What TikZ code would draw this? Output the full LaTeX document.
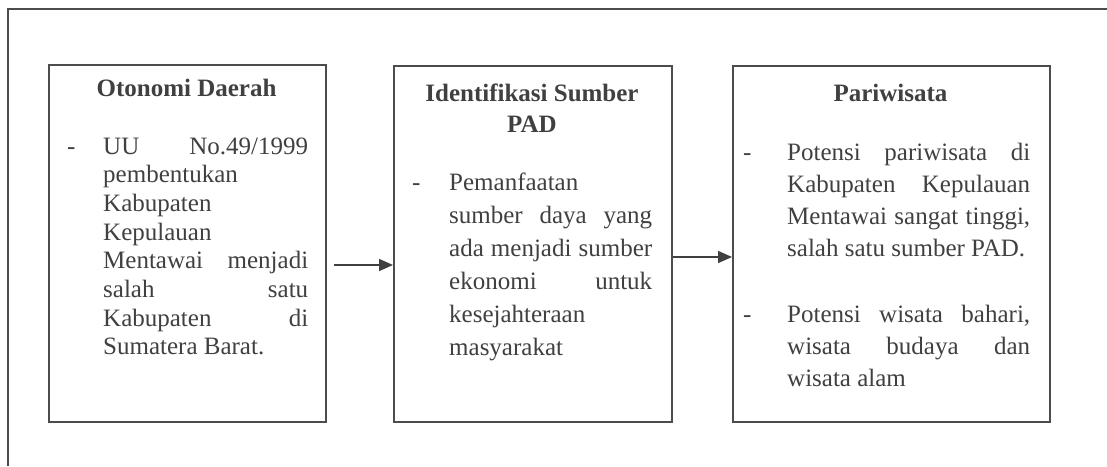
\documentclass[tikz,border=0pt]{standalone}
\usepackage{fontspec}
\setmainfont{Liberation Serif}
\usetikzlibrary{arrows.meta}
\newcommand\jl[1]{\makebox[\linewidth][s]{#1}}
\begin{document}
\begin{tikzpicture}[x=1pt,y=-1pt,
  frame/.style={draw=black!70, line width=1.5pt},
  box/.style={draw=black!70, line width=1.5pt, rectangle, inner sep=0pt, anchor=north west},
  txta/.style={inner sep=0pt, text=black!75, font=\fontsize{25}{28.7}\selectfont},
  txtb/.style={inner sep=0pt, text=black!75, font=\fontsize{25}{33}\selectfont},
  txtc/.style={inner sep=0pt, text=black!75, font=\fontsize{25}{32}\selectfont},
  ttl/.style={inner sep=0pt, text=black!75, font=\fontsize{25}{31}\selectfont\bfseries},
  arr/.style={draw=black!75, line width=1.5pt, -{Triangle[length=14pt,width=12pt]}},
]
\useasboundingbox (0,0) rectangle (1107,466);
\draw[frame] (8,466) -- (8,9) -- (1107,9);

\node[box, minimum width=277pt, minimum height=357pt] (b1) at (48,64) {};
\node[box, minimum width=278pt, minimum height=356pt] (b2) at (393,65) {};
\node[box, minimum width=317pt, minimum height=356pt] (b3) at (732,65) {};

% box 1
\node[ttl, anchor=base] (t1) at (186.5,96) {Otonomi Daerah};
\node[txta, anchor=base west] (d1) at (67,154) {-};
\node[txta, anchor=base west] (p1) at (103,154) {\parbox[t]{205pt}{\jl{UU No.49/1999}\\
pembentukan\\
Kabupaten\\
Kepulauan\\
\jl{Mentawai menjadi}\\
\jl{salah satu}\\
\jl{Kabupaten di}\\
Sumatera Barat.}};

% box 2
\node[ttl, anchor=base] (t2) at (532,101) {\parbox[t]{270pt}{\centering Identifikasi Sumber\\PAD}};
\node[txtb, anchor=base west] (d2) at (412,190) {-};
\node[txtb, anchor=base west] (p2) at (449,190) {\parbox[t]{203pt}{Pemanfaatan\\
\jl{sumber daya yang}\\
\jl{ada menjadi sumber}\\
\jl{ekonomi untuk}\\
kesejahteraan\\
masyarakat}};

% box 3
\node[ttl, anchor=base] (t3) at (890.5,101) {Pariwisata};
\node[txtc, anchor=base west] (d3) at (743,160) {-};
\node[txtc, anchor=base west] (d4) at (743,322) {-};
\node[txtc, anchor=base west] (p3) at (787,160) {\parbox[t]{243pt}{\jl{Potensi pariwisata di}\\
\jl{Kabupaten Kepulauan}\\
\jl{Mentawai sangat tinggi,}\\
salah satu sumber PAD.\\[34pt]
\jl{Potensi wisata bahari,}\\
\jl{wisata budaya dan}\\
wisata alam}};

% arrows
\coordinate (a1) at (334,265);
\coordinate (a2) at (673,257);
\draw[arr] (a1) -- (a1 -| b2.west);
\draw[arr] (a2) -- (a2 -| b3.west);
\end{tikzpicture}
\end{document}
